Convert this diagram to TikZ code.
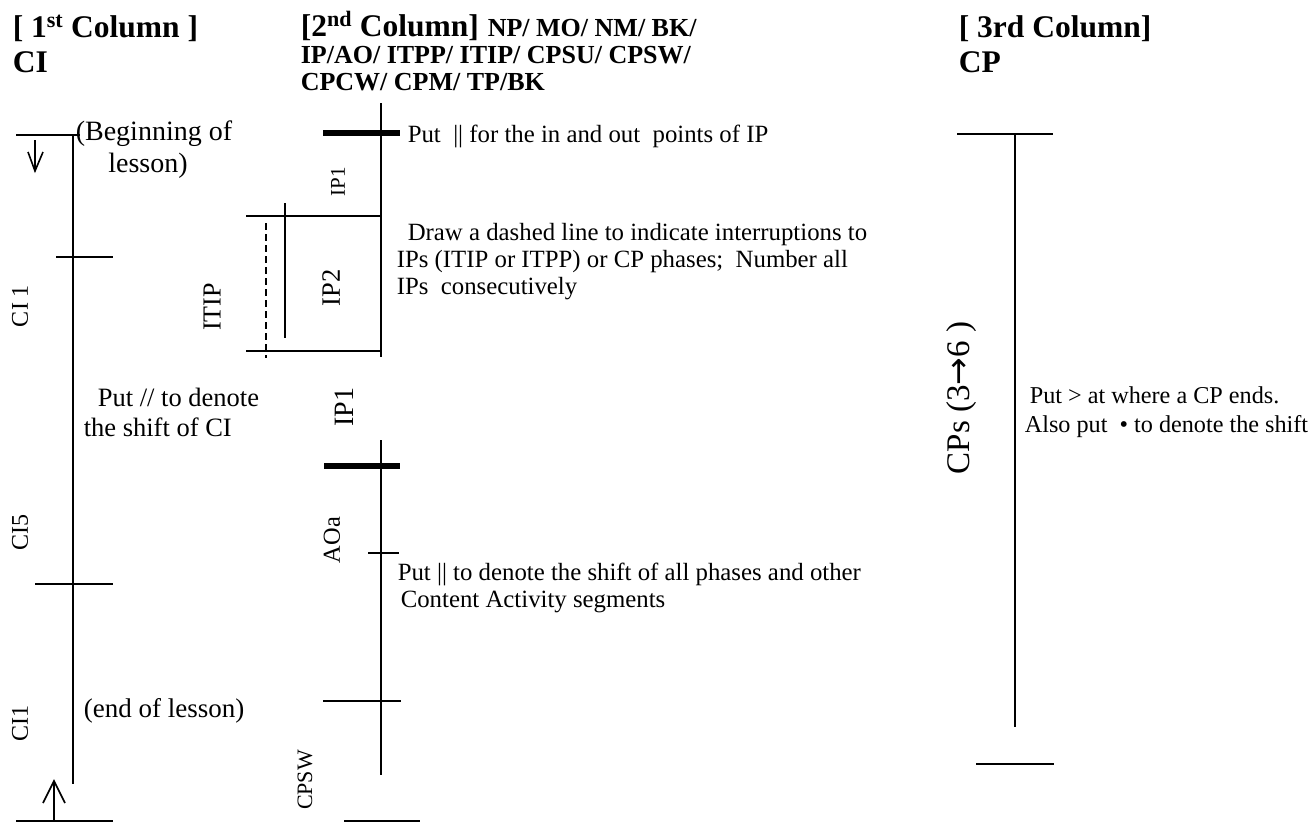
\documentclass[tikz,border=0pt]{standalone}
\usepackage{fontspec}
\setmainfont{Liberation Serif}
\newfontfamily\arrowfont{DejaVu Sans}
\begin{document}
\begin{tikzpicture}[x=1pt,y=-1pt,line width=1.6pt,
  txt/.style={inner sep=0pt,anchor=base west},
  vlab/.style={inner sep=0pt,rotate=90},
  bar/.style={line width=6pt},
  hdr/.style={inner sep=0pt,anchor=base west,font=\fontsize{31.5}{36}\selectfont\bfseries},
  subhdr/.style={inner sep=0pt,anchor=base west,font=\fontsize{26}{26}\selectfont\bfseries},
  body/.style={font=\fontsize{24.8}{28.5}\selectfont},
  cpline/.style={line width=2.3pt},
  dashline/.style={dash pattern=on 7pt off 4pt}
]
\useasboundingbox (0,0) rectangle (1311,822);

% ---------------- headers
\node[hdr] (h1a) at (12,37) {[ 1\textsuperscript{st} Column ]};
\node[hdr] (h1b) at (12,72) {CI};
\node[hdr] (h2a) at (300,36) {[2\textsuperscript{nd} Column]};
\node[subhdr] (h2b) at (487,36) {NP/ MO/ NM/ BK/};
\node[subhdr] (h2c) at (300,63) {IP/AO/ ITPP/ ITIP/ CPSU/ CPSW/};
\node[subhdr] (h2d) at (300,90) {CPCW/ CPM/ TP/BK};
\node[hdr] (h3a) at (958,37) {[ 3rd Column]};
\node[hdr] (h3b) at (958,72) {CP};

% ---------------- column 1
\coordinate (c1tl) at (16,135);
\coordinate (c1tr) at (80,135);
\coordinate (c1top) at (73,135);
\coordinate (c1bot) at (73,784);
\draw (c1tl) -- (c1tr);
\draw (c1top) -- (c1bot);
\coordinate (t1a) at (56,257);  \coordinate (t1b) at (113,257);
\draw (t1a) -- (t1b);
\coordinate (t2a) at (35,584);  \coordinate (t2b) at (113,584);
\draw (t2a) -- (t2b);
\coordinate (c1bl) at (16,821); \coordinate (c1br) at (113,821);
\draw (c1bl) -- (c1br);
% down arrow
\coordinate (da1) at (35,140); \coordinate (da2) at (35,171);
\coordinate (dal) at (28,152); \coordinate (dar) at (43,152);
\draw (da1) -- (da2);
\draw (dal) -- (da2) -- (dar);
% up arrow
\coordinate (ua1) at (54,821); \coordinate (ua2) at (54,781);
\coordinate (ual) at (43,803); \coordinate (uar) at (65,803);
\draw (ua1) -- (ua2);
\draw (ual) -- (ua2) -- (uar);

\node[txt,font=\fontsize{28}{32}\selectfont] (beg1) at (75,140) {(Beginning of};
\node[inner sep=0pt,anchor=base,font=\fontsize{28}{32}\selectfont] (beg2) at (148,172) {lesson)};
\node[txt,font=\fontsize{27}{31}\selectfont] (endl) at (83,717) {(end of lesson)};
\node[txt,font=\fontsize{26.5}{30}\selectfont] (ci1a) at (97,406) {Put // to denote};
\node[txt,font=\fontsize{26.5}{30}\selectfont] (ci1b) at (83,436) {the shift of CI};
\node[vlab,font=\fontsize{24}{28}\selectfont] (lci1) at (20,306) {CI 1};
\node[vlab,font=\fontsize{24}{28}\selectfont] (lci5) at (20,532) {CI5};
\node[vlab,font=\fontsize{24}{28}\selectfont] (lci1b) at (20,723) {CI1};

% ---------------- column 2
\coordinate (c2top) at (381,103);
\coordinate (c2mid) at (381,357);
\draw (c2top) -- (c2mid);
\coordinate (b1a) at (323,133); \coordinate (b1b) at (400,133);
\draw[bar] (b1a) -- (b1b);
\coordinate (h1l) at (246,216); \coordinate (h1r) at (381,216);
\draw (h1l) -- (h1r);
\coordinate (iv1) at (285,203); \coordinate (iv2) at (285,338);
\draw (iv1) -- (iv2);
\coordinate (dv1) at (266,223); \coordinate (dv2) at (266,358);
\draw[dashline] (dv1) -- (dv2);
\coordinate (h2l) at (246,351); \coordinate (h2r) at (381,351);
\draw (h2l) -- (h2r);
\node[vlab,font=\fontsize{21}{25}\selectfont] (lip1) at (338,182) {IP1};
\node[vlab,font=\fontsize{26.5}{30}\selectfont] (lip2) at (331,288) {IP2};
\node[vlab,font=\fontsize{26}{30}\selectfont] (litip) at (212,307) {ITIP};
\node[vlab,font=\fontsize{28}{32}\selectfont] (lip1b) at (344,407) {IP1};

\coordinate (c2top2) at (381,440);
\coordinate (c2bot) at (381,775);
\draw (c2top2) -- (c2bot);
\coordinate (b2a) at (324,466); \coordinate (b2b) at (400,466);
\draw[bar] (b2a) -- (b2b);
\coordinate (t3a) at (368,553); \coordinate (t3b) at (399,553);
\draw (t3a) -- (t3b);
\coordinate (t4a) at (323,701); \coordinate (t4b) at (401,701);
\draw (t4a) -- (t4b);
\coordinate (c2bl) at (344,821); \coordinate (c2br) at (420,821);
\draw (c2bl) -- (c2br);
\node[vlab,font=\fontsize{24.4}{28}\selectfont] (laoa) at (332,540) {AOa};
\node[vlab,font=\fontsize{22}{26}\selectfont] (lcpsw) at (305,780) {CPSW};

\node[txt,body] (put1) at (407,142) {Put\ \ || for the in and out\ \ points of IP};
\node[txt,body] (dr1) at (407,240) {Draw a dashed line to indicate interruptions to};
\node[txt,body] (dr2) at (396,267) {IPs (ITIP or ITPP) or CP phases;\ \ Number all};
\node[txt,body] (dr3) at (396,294) {IPs\ \ consecutively};
\node[txt,body] (ps1) at (397,580) {Put || to denote the shift of all phases and other};
\node[txt,body] (ps2) at (400,607) {Content Activity segments};

% ---------------- column 3
\coordinate (c3tl) at (957,134); \coordinate (c3tr) at (1053,134);
\draw (c3tl) -- (c3tr);
\coordinate (c3top) at (1015,134); \coordinate (c3bot) at (1015,727);
\draw[cpline] (c3top) -- (c3bot);
\coordinate (c3bl) at (976,764); \coordinate (c3br) at (1054,764);
\draw (c3bl) -- (c3br);
\node[vlab,font=\fontsize{33}{38}\selectfont] (lcps) at (962,398) {CPs (3{\arrowfont →}6 )};
\node[txt,font=\fontsize{24.2}{28}\selectfont] (cp1) at (1029,403) {Put > at where a CP ends.};
\node[txt,font=\fontsize{24.2}{28}\selectfont] (cp2) at (1024,432) {Also put\ \ • to denote the shift};
\end{tikzpicture}
\end{document}
